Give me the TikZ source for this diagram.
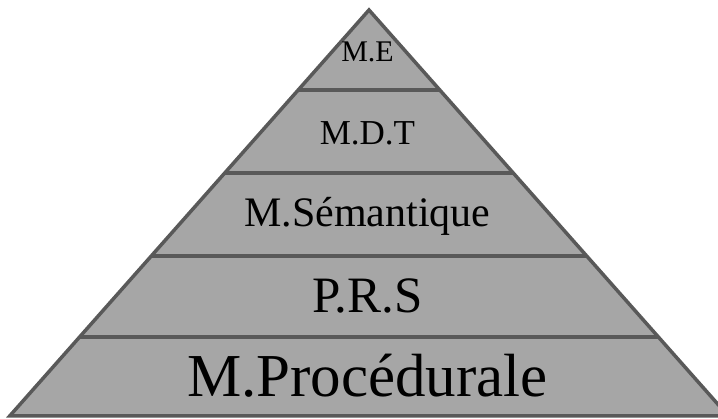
\documentclass[tikz,border=0pt]{standalone}
\usepackage{fontspec}
\setmainfont{Liberation Serif}
\usepackage{amsmath}
\definecolor{bandfill}{HTML}{A6A6A6}
\definecolor{bandline}{HTML}{595959}
\tikzset{
  band/.style={fill=bandfill,draw=bandline,line width=3.5pt},
  divider/.style={draw=bandline,line width=4.5pt},
  level/.style={anchor=base,inner sep=0pt,text=black}
}
\begin{document}
\begin{tikzpicture}[x=1pt,y=-1pt]
\useasboundingbox (0,0) rectangle (718,419);
\clip (0,0) rectangle (718,419);
\coordinate (top) at (369,10);
\coordinate (bl) at (9.7,416);
\coordinate (br) at (728.3,416);
\draw [band] (top) -- (br) -- (bl) -- cycle;
\draw [divider] (298.2,90) -- (439.8,90);
\draw [divider] (224.7,173) -- (513.3,173);
\draw [divider] (151.3,256) -- (586.7,256);
\draw [divider] (79.6,337) -- (658.4,337);
\node [level,font=\fontsize{30}{30}\selectfont] (me) at (367.5,62) {M.E};
\node [level,font=\fontsize{35}{35}\selectfont] (mdt) at (367.5,145) {M.D.T};
\node [level,font=\fontsize{42}{42}\selectfont] (msem) at (367.5,227) {M.Sémantique};
\node [level,font=\fontsize{51}{51}\selectfont] (prs) at (367.5,313) {P.R.S};
\node [level,font=\fontsize{61}{61}\selectfont] (mproc) at (367.5,397) {M.Procédurale};
\end{tikzpicture}
\end{document}
